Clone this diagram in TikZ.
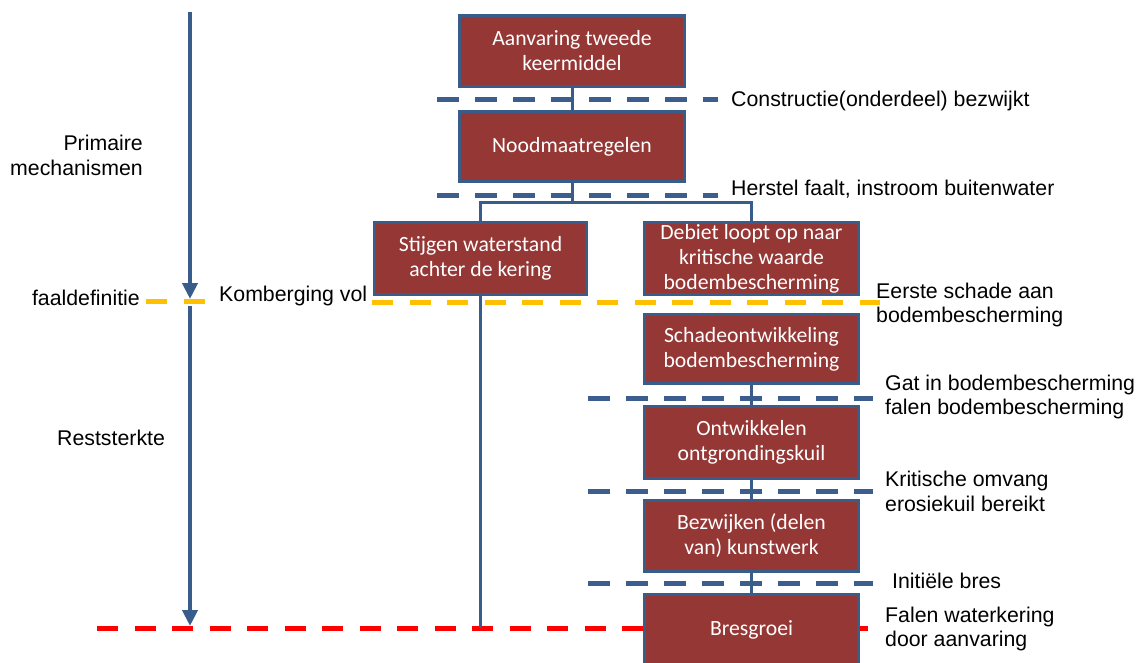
\documentclass[tikz,border=0pt]{standalone}
\usepackage{fontspec}
\setmainfont{Liberation Sans}
\newfontfamily\boxfont{Carlito}
\usetikzlibrary{arrows.meta}
\definecolor{boxred}{HTML}{953735}
\definecolor{boxblue}{HTML}{385D8A}
\definecolor{dashblue}{HTML}{3B5E8E}
\definecolor{dashorange}{HTML}{FFC000}
\definecolor{dashred}{HTML}{FF0000}
\tikzset{
  stepbox/.style={draw=boxblue, line width=3pt, fill=boxred, text=white,
    font=\boxfont\fontsize{21.7}{25}\selectfont, align=center, inner sep=0pt},
  conn/.style={draw=boxblue, line width=3pt},
  bluedash/.style={draw=dashblue, line width=5pt, dash pattern=on 22pt off 16pt},
  orangedash/.style={draw=dashorange, line width=5pt, dash pattern=on 21pt off 16.5pt},
  reddash/.style={draw=dashred, line width=5pt, dash pattern=on 21pt off 16.5pt},
  lbl/.style={font=\fontsize{21.3}{24.8}\selectfont, inner sep=0pt, align=left},
  timearrow/.style={draw=boxblue, line width=4pt, -{Triangle[width=15pt,length=16pt]}}
}
\begin{document}
\begin{tikzpicture}[x=1pt,y=-1pt]
\useasboundingbox (0,0) rectangle (1140,663);
% dashed level lines
\draw[bluedash] (437,100) -- (718,100);
\draw[bluedash] (437,196) -- (718,196);
\draw[orangedash] (146,301) -- (205,301);
\draw[orangedash] (372,302) -- (880,302);
\draw[bluedash] (588,398) -- (873,398);
\draw[bluedash] (588,491) -- (873,491);
\draw[bluedash] (588,583) -- (873,583);
\draw[reddash] (97,628) -- (880,628);
% boxes
\node[stepbox, minimum width=225pt, minimum height=71pt] (n1) at (572,51) {Aanvaring tweede\\keermiddel};
\node[stepbox, minimum width=225pt, minimum height=70pt] (n2) at (572,146.5) {Noodmaatregelen};
\node[stepbox, minimum width=212pt, minimum height=72pt] (n3) at (480.5,258.5) {Stijgen waterstand\\achter de kering};
\node[stepbox, minimum width=214pt, minimum height=72pt] (n4) at (751.5,258.5) {Debiet loopt op naar\\kritische waarde\\bodembescherming};
\node[stepbox, minimum width=214pt, minimum height=69pt] (n5) at (751.5,349) {Schadeontwikkeling\\bodembescherming};
\node[stepbox, minimum width=214pt, minimum height=72pt] (n6) at (751.5,442.5) {Ontwikkelen\\ontgrondingskuil};
\node[stepbox, minimum width=214pt, minimum height=71pt] (n7) at (751.5,536) {Bezwijken (delen\\van) kunstwerk};
\node[stepbox, minimum width=214pt, minimum height=72pt] (n8) at (751.5,630) {Bresgroei};
% connectors
\coordinate (br) at (572,203);
\coordinate (rl) at (480.5,628);
\draw[conn] (n1.south) -- (n2.north);
\draw[conn] (n2.south) -- (br);
\draw[conn] (n3.north) |- (br) -| (n4.north);
\draw[conn] (n3.south) -- (rl);
\draw[conn] (n5.south) -- (n6.north);
\draw[conn] (n6.south) -- (n7.north);
\draw[conn] (n7.south) -- (n8.north);
% time arrows
\coordinate (a1s) at (190,12);
\coordinate (a1e) at (190,299);
\coordinate (a2s) at (190,306);
\coordinate (a2e) at (190,626);
\draw[timearrow] (a1s) -- (a1e);
\draw[timearrow] (a2s) -- (a2e);
% labels
\node[lbl, anchor=east, align=right] (lp) at (143,155) {Primaire\\mechanismen};
\node[lbl, anchor=east] (lf) at (140,298) {faaldefinitie};
\node[lbl, anchor=west] (lk) at (219,296) {Komberging vol};
\node[lbl, anchor=west] (lr) at (57,438) {Reststerkte};
\node[lbl, anchor=west] (l1) at (731,101) {Constructie(onderdeel) bezwijkt};
\node[lbl, anchor=west] (l2) at (731,189) {Herstel faalt, instroom buitenwater};
\node[lbl, anchor=west] (l3) at (876,305) {Eerste schade aan\\bodembescherming};
\node[lbl, anchor=west] (l4) at (885,397) {Gat in bodembescherming\\falen bodembescherming};
\node[lbl, anchor=west] (l5) at (885,491) {Kritische omvang\\erosiekuil bereikt};
\node[lbl, anchor=west] (l6) at (892,581) {Initiële bres};
\node[lbl, anchor=west] (l7) at (885,629) {Falen waterkering\\door aanvaring};
\end{tikzpicture}
\end{document}
